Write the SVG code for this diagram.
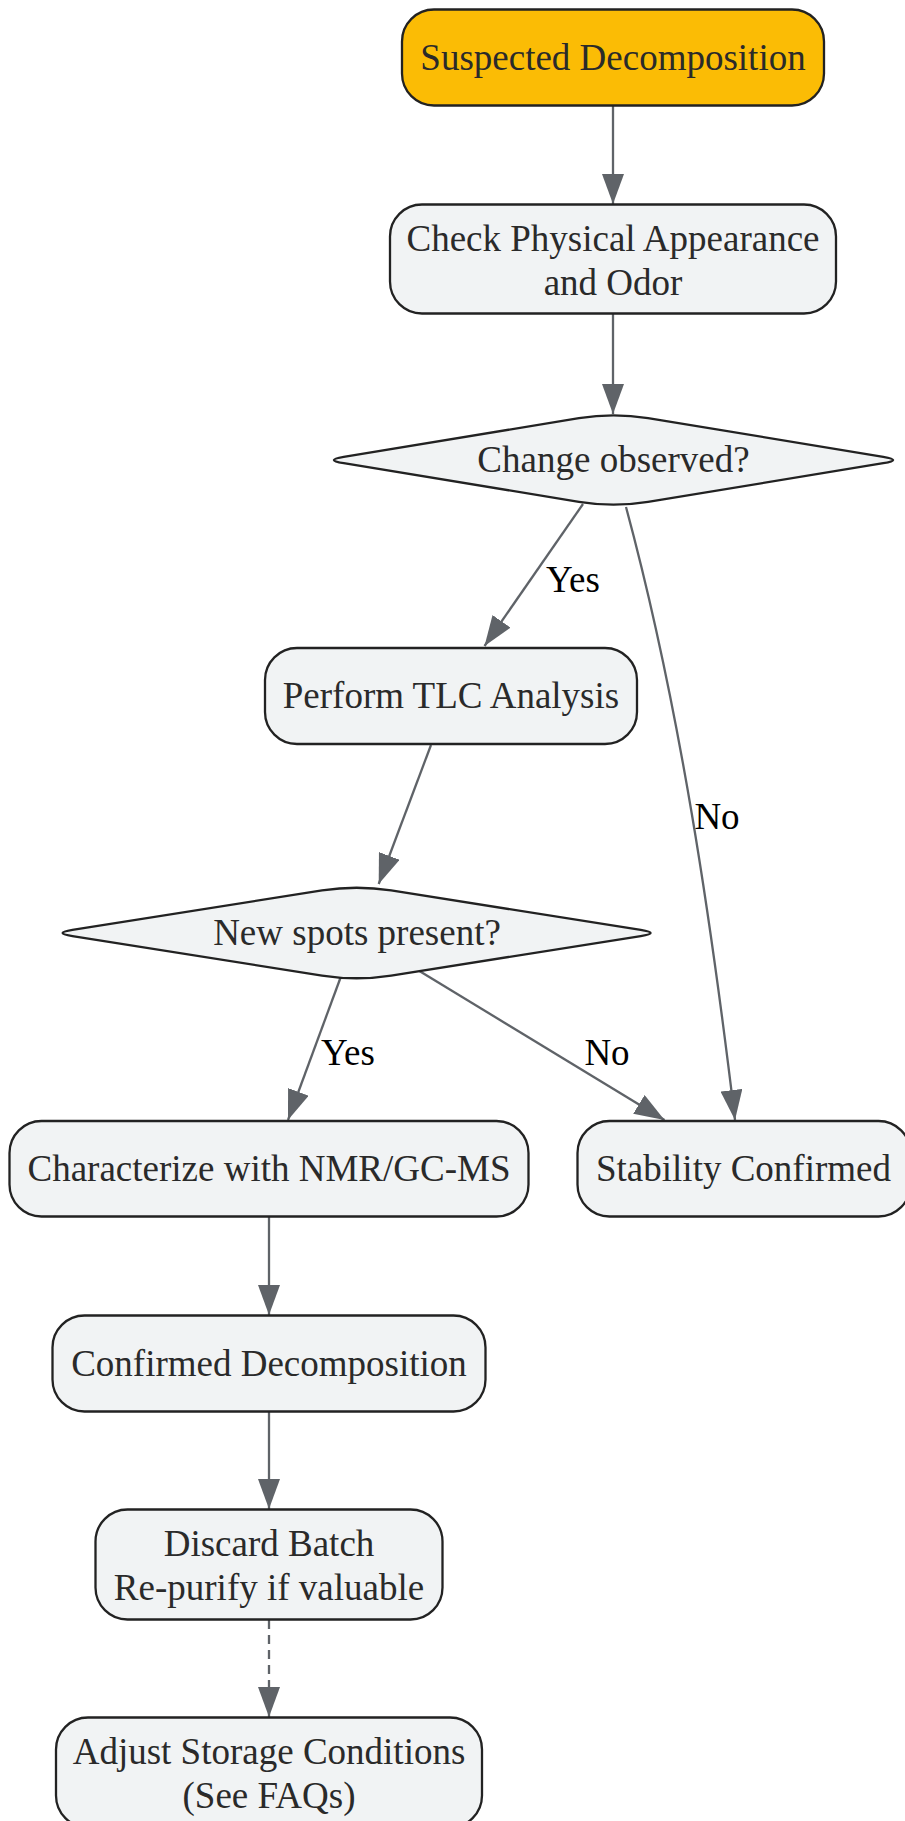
<svg xmlns="http://www.w3.org/2000/svg" width="905" height="1821" viewBox="0 0 905 1821">
<defs>
<style>
.node{fill:#f1f3f4;stroke:#222;stroke-width:2.3}
.start{fill:#fbbc05;stroke:#222;stroke-width:2.3}
.t{font-family:"Liberation Serif","Times New Roman",serif;font-size:37px;fill:#2a2a2a;text-anchor:middle}
.lbl{font-family:"Liberation Serif","Times New Roman",serif;font-size:37px;fill:#000;text-anchor:middle}
.e{fill:none;stroke:#5f6368;stroke-width:2.3}
.dash{stroke-dasharray:9 6}
</style>
<marker id="arr" viewBox="0 0 30 22" refX="30" refY="11" markerWidth="30" markerHeight="22" markerUnits="userSpaceOnUse" orient="auto">
<path d="M0,0 L30,11 L0,22 z" fill="#5f6368"/>
</marker>
</defs>
<rect width="905" height="1821" fill="#fff"/>
<g id="connectors">
<path class="e" d="M613,106 L613,204" marker-end="url(#arr)"/>
<path class="e" d="M613,314 L613,414" marker-end="url(#arr)"/>
<path class="e" d="M583,504 L484.5,646" marker-end="url(#arr)"/>
<path class="e" d="M626,507 C680,707 711,920 735,1120" marker-end="url(#arr)"/>
<path class="e" d="M431,745 L378.7,884" marker-end="url(#arr)"/>
<path class="e" d="M340.4,978 L288,1120" marker-end="url(#arr)"/>
<path class="e" d="M419.4,971 L664.5,1120" marker-end="url(#arr)"/>
<path class="e" d="M269,1217 L269,1315" marker-end="url(#arr)"/>
<path class="e" d="M269,1412 L269,1509" marker-end="url(#arr)"/>
<path class="e dash" d="M269,1620 L269,1717" marker-end="url(#arr)"/>
<text class="lbl" x="573" y="592">Yes</text>
<text class="lbl" x="717" y="829">No</text>
<text class="lbl" x="348" y="1065">Yes</text>
<text class="lbl" x="607" y="1065">No</text>
</g>
<g id="suspected">
<rect class="start" x="402" y="9.5" width="422" height="96" rx="32"/>
<text class="t" x="613" y="70">Suspected Decomposition</text>
</g>
<g id="check">
<rect class="node" x="390" y="204.5" width="446" height="109" rx="32"/>
<text class="t" x="613" y="251">Check Physical Appearance</text>
<text class="t" x="613" y="295">and Odor</text>
</g>
<g id="change">
<path class="node" d="M578.96,418.17 Q613.5,412.5 648.04,418.17 L883.26,456.76 Q903,460 883.26,463.24 L648.04,501.83 Q613.5,507.5 578.96,501.83 L343.74,463.24 Q324,460 343.74,456.76 Z"/>
<text class="t" x="613.5" y="472">Change observed?</text>
</g>
<g id="tlc">
<rect class="node" x="265" y="648" width="372" height="96" rx="32"/>
<text class="t" x="451" y="708">Perform TLC Analysis</text>
</g>
<g id="spots">
<path class="node" d="M322.03,890.46 Q356.6,885 391.17,890.46 L640.74,929.88 Q660.5,933 640.74,936.12 L391.17,975.54 Q356.6,981 322.03,975.54 L72.46,936.12 Q52.7,933 72.46,929.88 Z"/>
<text class="t" x="357" y="945">New spots present?</text>
</g>
<g id="characterize">
<rect class="node" x="9.5" y="1121" width="519" height="95.5" rx="32"/>
<text class="t" x="269" y="1181">Characterize with NMR/GC-MS</text>
</g>
<g id="stability">
<rect class="node" x="577.5" y="1121" width="333" height="95.5" rx="32"/>
<text class="t" x="743.5" y="1181">Stability Confirmed</text>
</g>
<g id="confirmed">
<rect class="node" x="52.5" y="1315.5" width="433" height="96" rx="32"/>
<text class="t" x="269" y="1376">Confirmed Decomposition</text>
</g>
<g id="discard">
<rect class="node" x="95.5" y="1509.5" width="347" height="110" rx="32"/>
<text class="t" x="269" y="1556">Discard Batch</text>
<text class="t" x="269" y="1600">Re-purify if valuable</text>
</g>
<g id="adjust">
<rect class="node" x="56" y="1717.5" width="426" height="110" rx="32"/>
<text class="t" x="269" y="1764">Adjust Storage Conditions</text>
<text class="t" x="269" y="1808">(See FAQs)</text>
</g>
</svg>
